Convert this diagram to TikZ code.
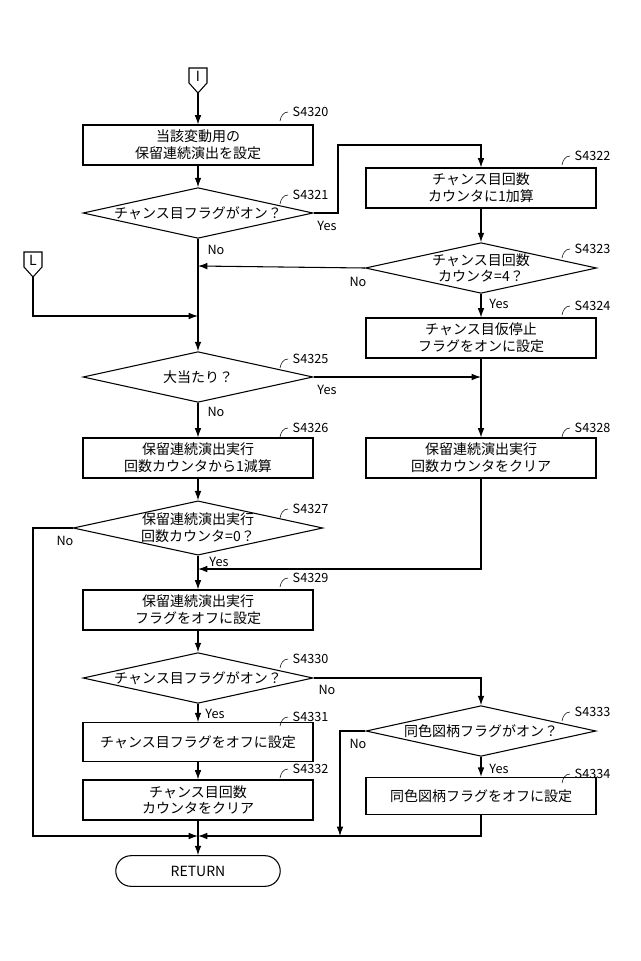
\documentclass[tikz,border=0pt]{standalone}
\usepackage{fontspec}
\setmainfont{Noto Sans CJK JP}
\usetikzlibrary{shapes.geometric,shapes.misc,arrows.meta,calc}
\tikzset{
  proc/.style={draw, thick, minimum width=172.5pt, minimum height=30pt, align=center, inner sep=1pt},
  dec/.style={draw, thick, diamond, aspect=4.6, minimum width=172.5pt, minimum height=38pt, inner sep=0pt, align=center},
  conn/.style={minimum width=18pt, minimum height=13pt},
  lbl/.style={font=\fontsize{9.5}{10}\selectfont},
  tagtext/.style={font=\fontsize{9.5}{10}\selectfont, anchor=west},
}
\newcommand{\steptag}[3]{% corner, text, name
  \draw[thin] ($(#1)+(-10,-1)$) to[out=80,in=180] ($(#1)+(-2,-10)$) node[tagtext] (#3) {#2};}
\begin{document}
\begin{tikzpicture}[x=0.75pt, y=-0.75pt, thick, >={Latex[length=7pt,width=5pt]},
  font=\fontsize{10.5}{12.5}\selectfont]
\useasboundingbox (0,0) rectangle (640,961);

\node[conn] (I) at (198,76) {I};
\draw[thick] (189,68)--(207,68)--(207,83)--(198,93)--(189,83)--cycle;
\node[conn] (L) at (33,260) {L};
\draw[thick] (24,252)--(42,252)--(42,267)--(33,277)--(24,267)--cycle;
\coordinate (Ib) at (198,93);
\coordinate (Lb) at (33,277);

\node[proc] (s4320) at (198,145) {当該変動用の\\保留連続演出を設定};
\node[dec] (s4321) at (198,213) {チャンス目フラグがオン？};
\node[proc] (s4322) at (481,188) {チャンス目回数\\カウンタに1加算};
\node[dec] (s4323) at (481,268) {チャンス目回数\\カウンタ=4？};
\node[proc] (s4324) at (481,338) {チャンス目仮停止\\フラグをオンに設定};
\node[dec] (s4325) at (198,377) {大当たり？};
\node[proc] (s4326) at (198,458) {保留連続演出実行\\回数カウンタから1減算};
\node[proc] (s4328) at (481,458) {保留連続演出実行\\回数カウンタをクリア};
\node[dec] (s4327) at (198,528) {保留連続演出実行\\回数カウンタ=0？};
\node[proc] (s4329) at (198,610) {保留連続演出実行\\フラグをオフに設定};
\node[dec] (s4330) at (198,678) {チャンス目フラグがオン？};
\node[dec] (s4333) at (481,731) {同色図柄フラグがオン？};
\node[proc, minimum height=29pt] (s4331) at (198,742) {チャンス目フラグをオフに設定};
\node[proc] (s4332) at (198,800) {チャンス目回数\\カウンタをクリア};
\node[proc, minimum height=28pt] (s4334) at (481,796) {同色図柄フラグをオフに設定};
\node[draw, thick, rounded rectangle, minimum width=130pt, minimum height=23pt] (ret) at (198,871) {RETURN};

\coordinate (j1) at (198,266);
\coordinate (j2) at (198,316);
\coordinate (j3) at (198,569);
\coordinate (j4) at (198,836);
\coordinate (j5) at (481,377);

% main path
\draw[->] (Ib) -- (s4320);
\draw[->] (s4320) -- (s4321);
\draw[->] (s4321.south) -- (s4325.north);
\draw[->] (s4325) -- (s4326);
\draw[->] (s4326) -- (s4327);
\draw[->] (s4327.south) -- (s4329.north);
\draw[->] (s4329) -- (s4330);
\draw[->] (s4330.south) -- (s4331.north);
\draw[->] (s4331) -- (s4332);
\draw[->] (s4332.south) -- (ret.north);

% branches
\draw[->] (s4321.east) -- (338,213) |- (481,145) -- (s4322.north);
\draw[->] (s4322) -- (s4323);
\draw[->] (s4323.west) -- (j1);
\draw[->] (s4323.south) -- (s4324.north);
\draw[->] (Lb) |- (j2);
\draw[->] (s4325.east) -- (j5);
\draw[->] (s4324.south) -- (s4328.north);
\draw[->] (s4328.south) |- (j3);
\draw[->] (s4327.west) -| (33,836) -- (j4);
\draw[->] (s4330.east) -| (s4333.north);
\draw[->] (s4333.west) -| (340,836);
\draw[->] (s4333.south) -- (s4334.north);
\draw[->] (s4334.south) |- (j4);

% yes / no
\node[lbl] at (327,226) {Yes};
\node[lbl] at (216,250) {No};
\node[lbl] at (358,282) {No};
\node[lbl] at (499,304) {Yes};
\node[lbl] at (327,390) {Yes};
\node[lbl] at (216,412) {No};
\node[lbl] at (65,541) {No};
\node[lbl] at (219,562) {Yes};
\node[lbl] at (327,690) {No};
\node[lbl] at (215,714) {Yes};
\node[lbl] at (358,744) {No};
\node[lbl] at (499,769) {Yes};

% step tags
\steptag{290,122}{S4320}{t4320}
\steptag{290,205}{S4321}{t4321}
\steptag{572,166}{S4322}{t4322}
\steptag{572,259}{S4323}{t4323}
\steptag{572,316}{S4324}{t4324}
\steptag{290,369}{S4325}{t4325}
\steptag{290,438}{S4326}{t4326}
\steptag{572,438}{S4328}{t4328}
\steptag{290,519}{S4327}{t4327}
\steptag{290,588}{S4329}{t4329}
\steptag{290,669}{S4330}{t4330}
\steptag{290,727}{S4331}{t4331}
\steptag{290,779}{S4332}{t4332}
\steptag{572,722}{S4333}{t4333}
\steptag{572,784}{S4334}{t4334}
\end{tikzpicture}
\end{document}
